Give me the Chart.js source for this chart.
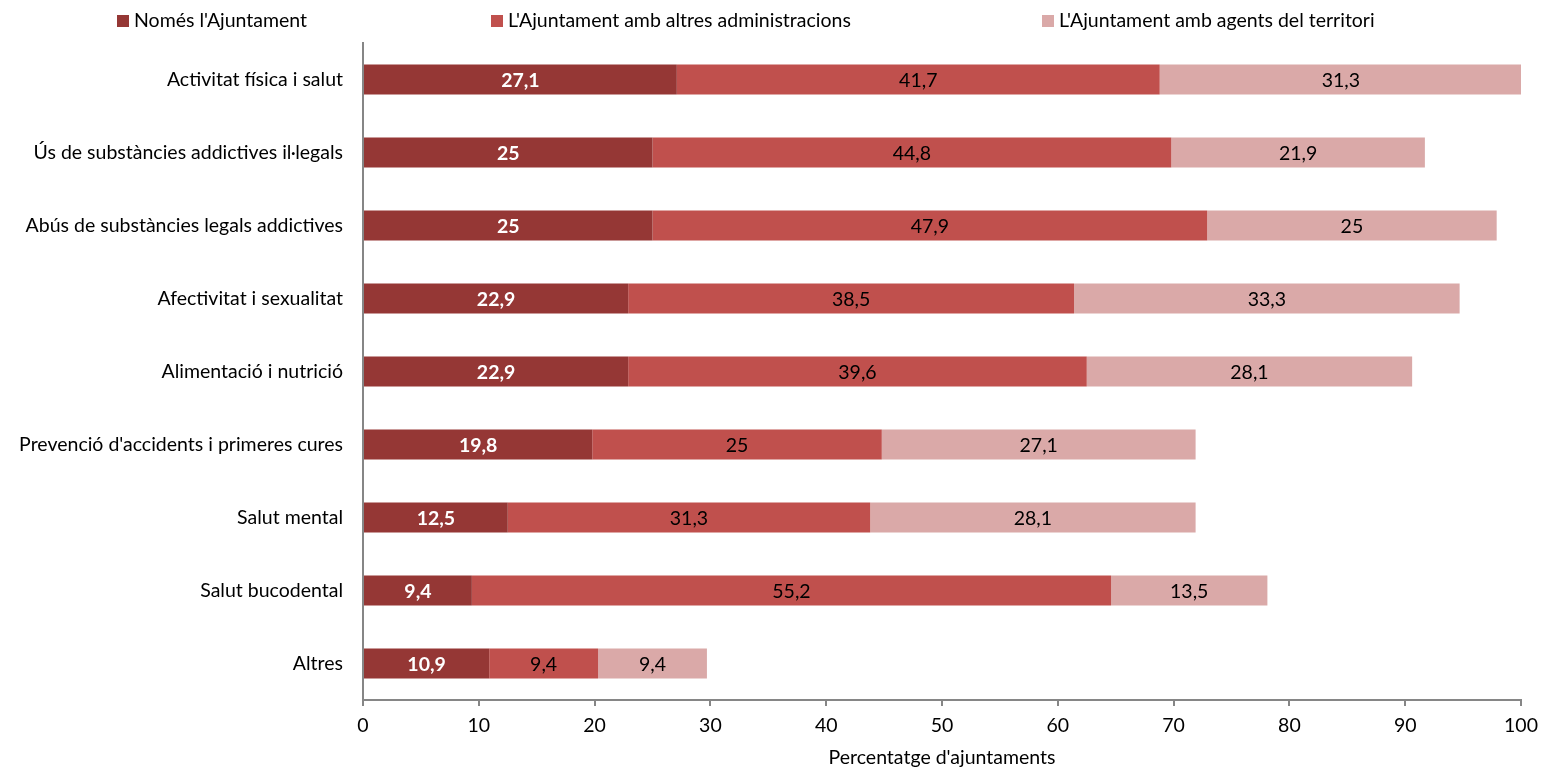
<!DOCTYPE html>
<html>
<head>
<meta charset="utf-8">
<script src="https://cdn.jsdelivr.net/npm/chart.js@4"></script>
<style>
  html, body { margin: 0; padding: 0; background: #fff; }
  #wrap { width: 1541px; height: 769px; }
</style>
</head>
<body>
<div id="wrap"><canvas id="chart" width="1541" height="769"></canvas></div>
<script>
const labels = [
    'Activitat física i salut',
    'Ús de substàncies addictives il·legals',
    'Abús de substàncies legals addictives',
    'Afectivitat i sexualitat',
    'Alimentació i nutrició',
    "Prevenció d'accidents i primeres cures",
    'Salut mental',
    'Salut bucodental',
    'Altres'
];
const nomesAjuntament = [27.1, 25, 25, 22.9, 22.9, 19.8, 12.5, 9.4, 10.9];
const ambAdministracions = [41.7, 44.8, 47.9, 38.5, 39.6, 25, 31.3, 55.2, 9.4];
const ambAgents = [31.3, 21.9, 25, 33.3, 28.1, 27.1, 28.1, 13.5, 9.4];
const xTicks = [0, 10, 20, 30, 40, 50, 60, 70, 80, 90, 100];

const fontFamily = 'Lato, "Open Sans", sans-serif';
const fontSize = 19.5;
const axisColor = '#868686';
const legendX = [117, 491, 1042]; // left edge of each legend swatch, Excel-like spacing

// draws the value in the middle of each bar segment
const barLabels = {
    id: 'barLabels',
    afterDatasetsDraw(chart) {
        const ctx = chart.ctx;
        ctx.save();
        ctx.textAlign = 'center';
        ctx.textBaseline = 'middle';
        chart.data.datasets.forEach((ds, di) => {
            const meta = chart.getDatasetMeta(di);
            meta.data.forEach((bar, i) => {
                const v = ds.data[i];
                const cx = (bar.x + bar.base) / 2;
                ctx.fillStyle = di === 0 ? '#ffffff' : '#000000';
                ctx.font = (di === 0 ? 'bold ' : '') + fontSize + 'px ' + fontFamily;
                ctx.fillText(String(v).replace('.', ','), cx, bar.y + 1);
            });
        });
        ctx.restore();
    }
};

// legend spread across the top like the original
const topLegend = {
    id: 'topLegend',
    afterDraw(chart) {
        const ctx = chart.ctx;
        ctx.save();
        ctx.textBaseline = 'middle';
        ctx.textAlign = 'left';
        ctx.font = fontSize + 'px ' + fontFamily;
        chart.data.datasets.forEach((ds, i) => {
            const x = legendX[i];
            ctx.fillStyle = ds.backgroundColor;
            ctx.fillRect(x, 15, 12, 12);
            ctx.fillStyle = '#000';
            ctx.fillText(ds.label, x + 17, 21);
        });
        ctx.restore();
    }
};

new Chart(document.getElementById('chart').getContext('2d'), {
    type: 'bar',
    data: {
        labels: labels,
        datasets: [
            { label: "Només l'Ajuntament", data: nomesAjuntament, backgroundColor: '#953735' },
            { label: "L'Ajuntament amb altres administracions", data: ambAdministracions, backgroundColor: '#C0504D' },
            { label: "L'Ajuntament amb agents del territori", data: ambAgents, backgroundColor: '#DAA9A8' }
        ]
    },
    options: {
        indexAxis: 'y',
        responsive: false,
        animation: false,
        datasets: {
            bar: { barPercentage: 0.41, categoryPercentage: 1 }
        },
        layout: {
            padding: { top: 43, right: 20, left: 0, bottom: 0 }
        },
        plugins: {
            legend: { display: false },
            tooltip: { enabled: false }
        },
        scales: {
            x: {
                stacked: true,
                min: 0,
                max: 100,
                afterBuildTicks: axis => { axis.ticks = xTicks.map(v => ({ value: v })); },
                afterFit: axis => { axis.height = 69; axis.paddingRight = 0; },
                grid: { drawOnChartArea: false, drawTicks: true, tickLength: 6, color: axisColor, lineWidth: 2 },
                border: { color: axisColor, width: 2 },
                ticks: { font: { family: fontFamily, size: fontSize }, color: '#000', padding: 8 },
                title: {
                    display: true,
                    text: "Percentatge d'ajuntaments",
                    font: { family: fontFamily, size: fontSize },
                    color: '#000',
                    padding: { top: 0, bottom: 0 }
                }
            },
            y: {
                stacked: true,
                afterFit: axis => { axis.width = 363; },
                grid: { drawOnChartArea: false, drawTicks: false },
                border: { color: axisColor, width: 2 },
                ticks: { font: { family: fontFamily, size: fontSize }, color: '#000', padding: 20 }
            }
        }
    },
    plugins: [barLabels, topLegend]
});
</script>
</body>
</html>
